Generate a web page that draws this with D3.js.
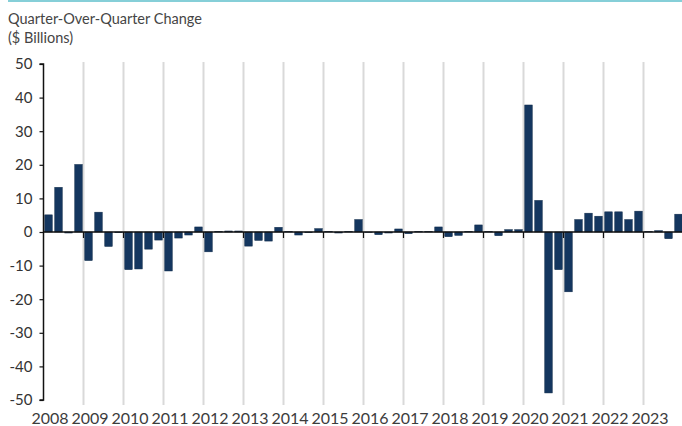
<!DOCTYPE html>
<html>
<head>
<meta charset="utf-8">
<script src="https://cdn.jsdelivr.net/npm/d3@7/dist/d3.min.js"></script>
<style>
  html, body { margin: 0; padding: 0; background: #fff; }
  svg { display: block; }
  text { font-family: Lato, "Open Sans", sans-serif; }
</style>
</head>
<body>
<svg id="chart" width="682" height="426"></svg>
<script>
// Quarter-over-quarter change, $ billions, 2008 Q1 – 2023 Q4
const yearLabels = ["2008","2009","2010","2011","2012","2013","2014","2015",
                    "2016","2017","2018","2019","2020","2021","2022","2023"];
const quarterNames = ["Q1","Q2","Q3","Q4"];
const changes = [
   5.1, 13.3, -0.3, 20.1,   // 2008
  -8.5,  5.9, -4.3, -0.2,   // 2009
 -11.2,-11.0, -5.1, -2.4,   // 2010
 -11.6, -1.8, -0.9,  1.5,   // 2011
  -5.9,  0.1,  0.3,  0.3,   // 2012
  -4.2, -2.5, -2.7,  1.4,   // 2013
   0.1, -0.9, -0.2,  1.0,   // 2014
   0.1, -0.3,  0.1,  3.7,   // 2015
  -0.1, -0.8, -0.3,  0.9,   // 2016
  -0.5,  0.1,  0.1,  1.5,   // 2017
  -1.4, -1.0,  0.1,  2.1,   // 2018
   0.1, -1.1,  0.7,  0.7,   // 2019
  37.8,  9.4,-47.9,-11.2,   // 2020
 -17.8,  3.7,  5.6,  4.7,   // 2021
   6.0,  6.0,  3.7,  6.2,   // 2022
   0.1,  0.4, -2.0,  5.3    // 2023
];
const yTicks = [50, 40, 30, 20, 10, 0, -10, -20, -30, -40, -50];
const titleLines = ["Quarter-Over-Quarter Change", "($ Billions)"];

const quarters = yearLabels.flatMap(y => quarterNames.map(q => y + " " + q));
const data = quarters.map((q, i) => ({ q, v: changes[i] }));

const svg = d3.select("#chart");
const plotLeft = 43.5, plotRight = 683.5, plotTop = 64, plotBottom = 400;

const x = d3.scaleBand()
  .domain(quarters)
  .range([plotLeft, plotRight])
  .paddingInner(0.25)
  .paddingOuter(0.125);

// year boundaries share the same pixel span as the quarterly bands
const xYear = d3.scaleLinear()
  .domain([+yearLabels[0], +yearLabels[yearLabels.length - 1] + 1])
  .range([plotLeft, plotRight]);

const y = d3.scaleLinear().domain([-50, 50]).range([plotBottom, plotTop]);

// accent rule along the top edge
svg.append("rect")
  .attr("x", 8).attr("y", 0).attr("width", 682).attr("height", 2)
  .attr("fill", "#86cfd8");

// heading
svg.append("g").selectAll("text")
  .data(titleLines)
  .join("text")
  .attr("x", 8)
  .attr("y", (d, i) => 24 + i * 19)
  .attr("font-size", 14.5)
  .attr("fill", "#454545")
  .text(d => d);

// vertical year gridlines
const boundaries = yearLabels.slice(1).map(Number).concat([+yearLabels[yearLabels.length - 1] + 1]);
svg.append("g").selectAll("line")
  .data(boundaries)
  .join("line")
  .attr("x1", d => xYear(d)).attr("x2", d => xYear(d))
  .attr("y1", plotTop - 2).attr("y2", plotBottom + 5)
  .attr("stroke", "#d9d9d9")
  .attr("stroke-width", 2);

// bars
svg.append("g").selectAll("rect")
  .data(data)
  .join("rect")
  .attr("x", d => x(d.q))
  .attr("width", x.bandwidth())
  .attr("y", d => y(Math.max(0, d.v)))
  .attr("height", d => Math.abs(y(d.v) - y(0)))
  .attr("fill", "#14365f")
  .attr("stroke", "#0d2847")
  .attr("stroke-width", 0.5);

// y axis (plain hyphen for negatives)
const yAxis = d3.axisLeft(y).tickValues(yTicks).tickSize(4).tickPadding(7).tickFormat(d => String(d));
const gy = svg.append("g").attr("transform", `translate(${plotLeft},0)`).call(yAxis);
gy.select(".domain").attr("stroke", "#111").attr("stroke-width", 1.5).attr("d", `M-4,${plotTop}H0V${plotBottom}H-4`);
gy.selectAll(".tick line").attr("stroke", "#111").attr("stroke-width", 1.2);
gy.selectAll(".tick text")
  .attr("font-size", 15)
  .attr("fill", "#333")
  .style("font-family", "Lato, sans-serif");

// zero baseline with year tick marks below it
svg.append("line")
  .attr("x1", plotLeft).attr("x2", 682)
  .attr("y1", y(0)).attr("y2", y(0))
  .attr("stroke", "#111").attr("stroke-width", 1.5);
svg.append("g").selectAll("line")
  .data(boundaries)
  .join("line")
  .attr("x1", d => xYear(d)).attr("x2", d => xYear(d))
  .attr("y1", y(0)).attr("y2", y(0) + 6)
  .attr("stroke", "#111").attr("stroke-width", 1.2);

// year labels, centred under each year's first quarter
svg.append("g").selectAll("text")
  .data(yearLabels)
  .join("text")
  .attr("x", d => x(d + " Q1") + x.bandwidth() / 2 + 1.5)
  .attr("y", 424)
  .attr("text-anchor", "middle")
  .attr("font-size", 16)
  .attr("fill", "#3c3c3c")
  .text(d => d);
</script>
</body>
</html>
